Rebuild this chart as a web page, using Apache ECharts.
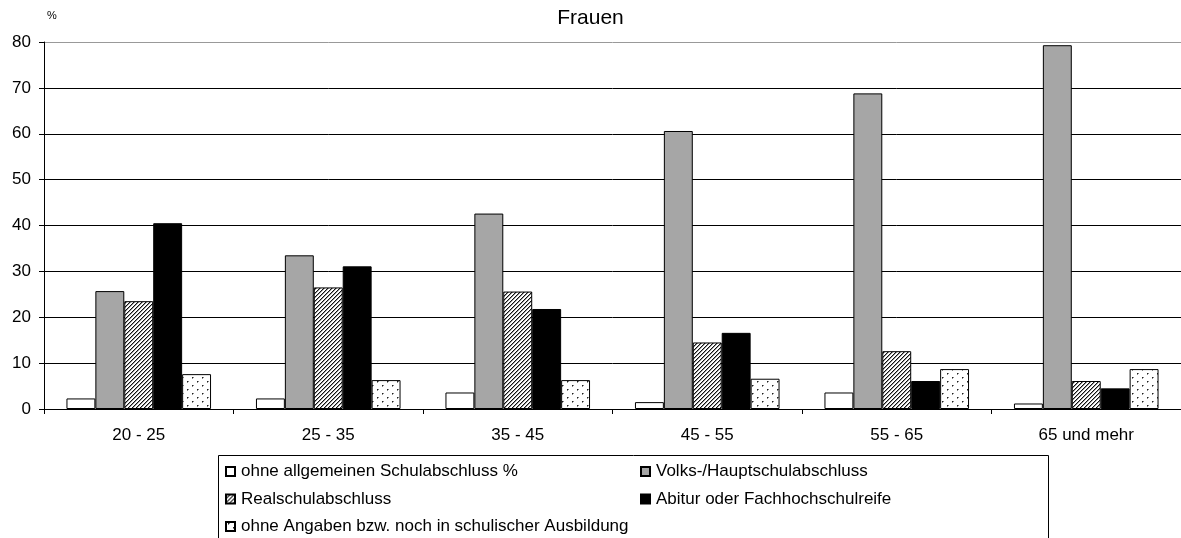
<!DOCTYPE html>
<html>
<head>
<meta charset="utf-8">
<script src="https://cdn.jsdelivr.net/npm/echarts@6/dist/echarts.min.js"></script>
<style>
  html, body { margin: 0; padding: 0; background: #fff; }
  #chart { width: 1181px; height: 538px; }
</style>
</head>
<body>
<div id="chart"></div>
<script>
// Schulabschluss der Frauen nach Altersgruppen (in %)
const categories = ['20 - 25', '25 - 35', '35 - 45', '45 - 55', '55 - 65', '65 und mehr'];
const ohneAbschluss = [2.3, 2.3, 3.6, 1.5, 3.6, 1.2];
const hauptschule = [25.7, 33.5, 42.6, 60.6, 68.8, 79.3];
const realschule = [23.5, 26.5, 25.6, 14.5, 12.6, 6.1];
const abitur = [40.5, 31.1, 21.8, 16.6, 6.1, 4.5];
const ohneAngaben = [7.6, 6.3, 6.3, 6.6, 8.7, 8.7];
const seriesNames = [
  'ohne allgemeinen Schulabschluss %',
  'Volks-/Hauptschulabschluss',
  'Realschulabschluss',
  'Abitur oder Fachhochschulreife',
  'ohne Angaben bzw. noch in schulischer Ausbildung'
];
const yTicks = { min: 0, max: 80, interval: 10 };

// diagonal hatch fill (///)
function hatchPattern() {
  const n = 4;
  const c = document.createElement('canvas');
  c.width = n; c.height = n;
  const ctx = c.getContext('2d');
  ctx.fillStyle = '#fff';
  ctx.fillRect(0, 0, n, n);
  for (let i = 0; i < n; i++) {
    const y = (n - 1 - i + n) % n;
    ctx.fillStyle = '#111';
    ctx.fillRect(i, y, 1, 1);
    ctx.fillStyle = '#999';
    ctx.fillRect(i, (y + 1) % n, 1, 1);
  }
  return c;
}

// sparse staggered dots
function dotPattern() {
  const w = 10, h = 8;
  const c = document.createElement('canvas');
  c.width = w; c.height = h;
  const ctx = c.getContext('2d');
  ctx.fillStyle = '#fff';
  ctx.fillRect(0, 0, w, h);
  ctx.fillStyle = '#222';
  ctx.fillRect(2, 1, 1, 1);
  ctx.fillRect(7, 5, 1, 1);
  ctx.fillStyle = '#888';
  ctx.fillRect(3, 1, 1, 1);
  ctx.fillRect(2, 2, 1, 1);
  ctx.fillRect(8, 5, 1, 1);
  ctx.fillRect(7, 6, 1, 1);
  return c;
}

const fills = [
  '#ffffff',
  '#a6a6a6',
  { image: hatchPattern(), repeat: 'repeat' },
  '#000000',
  { image: dotPattern(), repeat: 'repeat' }
];
const values = [ohneAbschluss, hauptschule, realschule, abitur, ohneAngaben];

const font = 'Liberation Sans, Arial, sans-serif';
const chart = echarts.init(document.getElementById('chart'), null, { renderer: 'canvas' });

const legendBase = {
  orient: 'vertical',
  itemWidth: 9, itemHeight: 9, itemGap: 10.5,
  icon: 'rect',
  textStyle: { fontFamily: font, fontSize: 17, color: '#000', padding: [0, 0, 0, 1] },
  padding: 0
};

chart.setOption({
  animation: false,
  backgroundColor: '#fff',
  title: {
    text: 'Frauen',
    left: 'center',
    top: 3,
    textStyle: { fontFamily: font, fontSize: 21, fontWeight: 'normal', color: '#000' }
  },
  grid: { left: 44, top: 42, width: 1140, height: 367, containLabel: false },
  legend: [
    Object.assign({}, legendBase, {
      data: [seriesNames[0], seriesNames[2], seriesNames[4]],
      left: 225, top: 463
    }),
    Object.assign({}, legendBase, {
      data: [seriesNames[1], seriesNames[3]],
      left: 640, top: 463
    })
  ],
  graphic: [
    {
      type: 'rect',
      shape: { x: 218.5, y: 455.5, width: 830, height: 120 },
      style: { fill: 'none', stroke: '#000', lineWidth: 1 },
      silent: true
    },
    {
      type: 'text',
      left: 47, top: 10,
      style: { text: '%', font: '11px ' + font, fill: '#000' }
    }
  ],
  xAxis: {
    type: 'category',
    data: categories,
    boundaryGap: true,
    axisLine: { show: true, lineStyle: { color: '#000', width: 1 } },
    axisTick: { show: true, alignWithLabel: false, length: 5, lineStyle: { color: '#000' } },
    axisLabel: { fontFamily: font, fontSize: 17, color: '#000', margin: 18 },
    splitLine: { show: false }
  },
  yAxis: {
    type: 'value',
    min: yTicks.min, max: yTicks.max, interval: yTicks.interval,
    axisLine: { show: true, lineStyle: { color: '#000', width: 1 } },
    axisTick: { show: true, length: 5, lineStyle: { color: '#000' } },
    axisLabel: { fontFamily: font, fontSize: 17, color: '#000', margin: 13 },
    splitLine: {
      show: true,
      lineStyle: {
        color: ['#000', '#000', '#000', '#000', '#000', '#000', '#000', '#000', '#999'],
        width: 1
      }
    }
  },
  series: values.map((v, i) => ({
    name: seriesNames[i],
    type: 'bar',
    data: v,
    barGap: '0%',
    barCategoryGap: '23.7%',
    itemStyle: { color: fills[i], borderColor: '#000', borderWidth: 1 }
  }))
});
</script>
</body>
</html>
